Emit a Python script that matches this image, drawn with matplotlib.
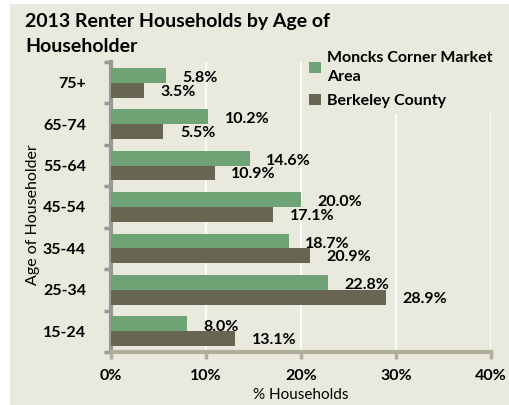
import matplotlib
matplotlib.use("Agg")
import matplotlib.pyplot as plt
import numpy as np

categories = ["15-24", "25-34", "35-44", "45-54", "55-64", "65-74", "75+"]
moncks = [8.0, 22.8, 18.7, 20.0, 14.6, 10.2, 5.8]
berkeley = [13.1, 28.9, 20.9, 17.1, 10.9, 5.5, 3.5]
series_names = ["Moncks Corner Market\nArea", "Berkeley County"]
xticks = [0, 10, 20, 30, 40]

plt.rcParams['font.family'] = ['Lato', 'DejaVu Sans']
bg = '#eae9de'
green = '#6fa376'
dark = '#666652'

fig = plt.figure(figsize=(5.09, 4.05), dpi=100)
fig.patch.set_facecolor('white')
panel = plt.Rectangle((10/509, 0), 1 - 10/509, 1 - 4/405, transform=fig.transFigure,
                      facecolor=bg, edgecolor='none', zorder=-10)
fig.patches.append(panel)

ax = fig.add_axes([111/509, 1 - 352/405, 380/509, 290/405])
ax.set_facecolor(bg)

y = np.arange(len(categories))
h = 0.36
ax.barh(y + h/2, moncks, height=h, color=green, label=series_names[0], zorder=3)
ax.barh(y - h/2, berkeley, height=h, color=dark, label=series_names[1], zorder=3)

for v, yy in zip(moncks, y + h/2):
    ax.annotate(f"{v:.1f}%", (v, yy), xytext=(12, -2), textcoords='offset points',
                ha='left', va='center', fontsize=11.5, fontweight='bold', zorder=4)
for v, yy in zip(berkeley, y - h/2):
    ax.annotate(f"{v:.1f}%", (v, yy), xytext=(12, -1), textcoords='offset points',
                ha='left', va='center', fontsize=11.5, fontweight='bold', zorder=4)

ax.set_xlim(0, 40)
ax.set_ylim(-0.5, len(categories) - 0.5)
ax.set_xticks(xticks)
ax.set_xticklabels([f"{t}%" for t in xticks], fontsize=11.5, fontweight='bold')
ax.set_yticks(y)
ax.set_yticklabels(categories, fontsize=11.5, fontweight='bold')
ax.set_yticks(np.arange(-0.5, len(categories), 1), minor=True)
ax.tick_params(axis='y', which='major', length=0, pad=18)
ax.tick_params(axis='y', which='minor', length=5, width=2.5, color='#999999')
ax.tick_params(axis='x', which='major', length=5, width=2.5, color='#b0b09a', pad=7)

ax.grid(axis='x', color='white', linewidth=1.2, zorder=0)
ax.set_axisbelow(True)
for s in ['top', 'right']:
    ax.spines[s].set_visible(False)
ax.spines['left'].set_color('#999999')
ax.spines['left'].set_linewidth(3)
ax.spines['bottom'].set_color('#b0b09a')
ax.spines['bottom'].set_linewidth(3)

ax.set_xlabel("% Households", fontsize=11)
ax.xaxis.set_label_coords(0.5, -(395 - 352) / 290, transform=ax.transAxes)
ax.xaxis.label.set_va('center')
ax.set_ylabel("Age of Householder", fontsize=11.5)
ax.yaxis.set_label_coords(-(111 - 33) / 380, (352 - 215) / 290)
ax.yaxis.label.set_va('center')

fig.text(25/509, 1 - 22/405, "2013 Renter Households by Age of", fontsize=14,
         fontweight='bold', va='center', ha='left')
fig.text(25/509, 1 - 47/405, "Householder", fontsize=14,
         fontweight='bold', va='center', ha='left')

leg = ax.legend(loc='upper left', bbox_to_anchor=(303/509, 1 - 45/405),
                bbox_transform=fig.transFigure, frameon=True, fontsize=11.5,
                handlelength=0.7, handleheight=0.7, handletextpad=0.4, labelspacing=0.6,
                borderaxespad=0)
leg.get_frame().set_facecolor(bg)
leg.get_frame().set_edgecolor('none')
leg.get_frame().set_alpha(1)
for t in leg.get_texts():
    t.set_fontweight('bold')
    t.set_linespacing(1.45)

fig.savefig("out.png", dpi=100, facecolor='white')
